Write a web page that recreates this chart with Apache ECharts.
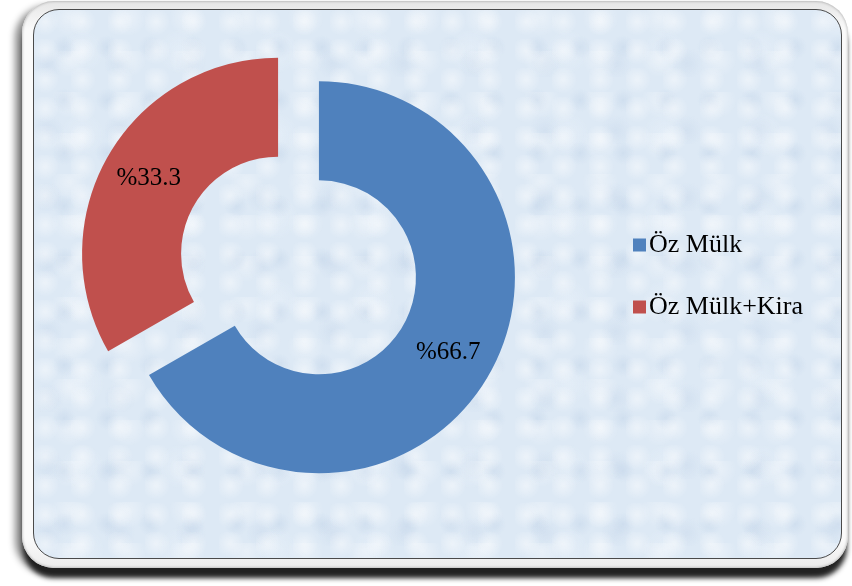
<!DOCTYPE html>
<html>
<head>
<meta charset="utf-8">
<script src="https://cdn.jsdelivr.net/npm/echarts@6/dist/echarts.min.js"></script>
<style>
  html, body { margin: 0; padding: 0; background: #ffffff; }
  #stage { position: relative; width: 852px; height: 586px; overflow: hidden; }
  #bevel {
    position: absolute; left: 22px; top: 1px; width: 826px; height: 567px;
    border-radius: 32px; background: linear-gradient(180deg, #e6e6e6 0%, #fafafa 5%, #fafafa 95%, #ececec 100%);
    box-shadow: 0 11px 5px -1px rgba(25,25,25,0.95), -7px 5px 7px rgba(0,0,0,0.45), inset 0 0 3px rgba(0,0,0,0.35);
  }
  #panel {
    position: absolute; left: 33px; top: 9px; width: 807px; height: 548px;
    border: 1.5px solid #4a4a4a; border-radius: 26px; overflow: hidden;
    background-color: #dde9f5;
    background-image:
      radial-gradient(circle at 30% 40%, rgba(255,255,255,0.45) 0, rgba(255,255,255,0) 14px),
      radial-gradient(circle at 70% 70%, rgba(185,205,228,0.35) 0, rgba(185,205,228,0) 12px),
      radial-gradient(circle at 60% 20%, rgba(255,255,255,0.35) 0, rgba(255,255,255,0) 18px),
      radial-gradient(circle at 20% 80%, rgba(190,208,230,0.3) 0, rgba(190,208,230,0) 16px),
      radial-gradient(circle at 50% 50%, rgba(240,246,252,0.35) 0, rgba(240,246,252,0) 22px);
    background-size: 37px 29px, 43px 53px, 59px 41px, 71px 67px, 97px 83px;
  }
  #chart { position: absolute; left: 0; top: 0; width: 852px; height: 586px; }
</style>
</head>
<body>
<div id="stage">
  <div id="bevel"></div>
  <div id="panel"></div>
  <div id="chart"></div>
</div>
<script>
// Ownership shares (percent)
const categories = ['Öz Mülk', 'Öz Mülk+Kira'];
const shares = [66.7, 33.3];
const sliceColors = ['#4f81bd', '#c0504d'];

const chart = echarts.init(document.getElementById('chart'), null, { renderer: 'canvas' });

const data = categories.map((name, i) => ({
  name: name,
  value: shares[i],
  selected: true,
  itemStyle: { color: sliceColors[i] }
}));

chart.setOption({
  animation: false,
  backgroundColor: 'transparent',
  legend: {
    orient: 'vertical',
    left: 628,
    top: 225,
    icon: 'rect',
    itemWidth: 13,
    itemHeight: 13,
    itemGap: 32,
    textStyle: {
      fontFamily: 'Liberation Serif',
      fontSize: 26,
      lineHeight: 30,
      color: '#000000',
      padding: [0, 0, 0, -2]
    },
    data: categories,
    selectedMode: false
  },
  series: [{
    type: 'pie',
    center: [298.5, 265.5],
    radius: [97, 196],
    startAngle: 90,
    clockwise: true,
    selectedMode: 'multiple',
    selectedOffset: 23.6,
    avoidLabelOverlap: false,
    emphasis: { disabled: true },
    label: {
      show: true,
      position: 'inside',
      formatter: p => '%' + p.value.toFixed(1),
      fontFamily: 'Liberation Serif',
      fontSize: 25,
      color: '#000000'
    },
    labelLine: { show: false },
    itemStyle: { borderWidth: 0 },
    data: data
  }]
});
</script>
</body>
</html>
